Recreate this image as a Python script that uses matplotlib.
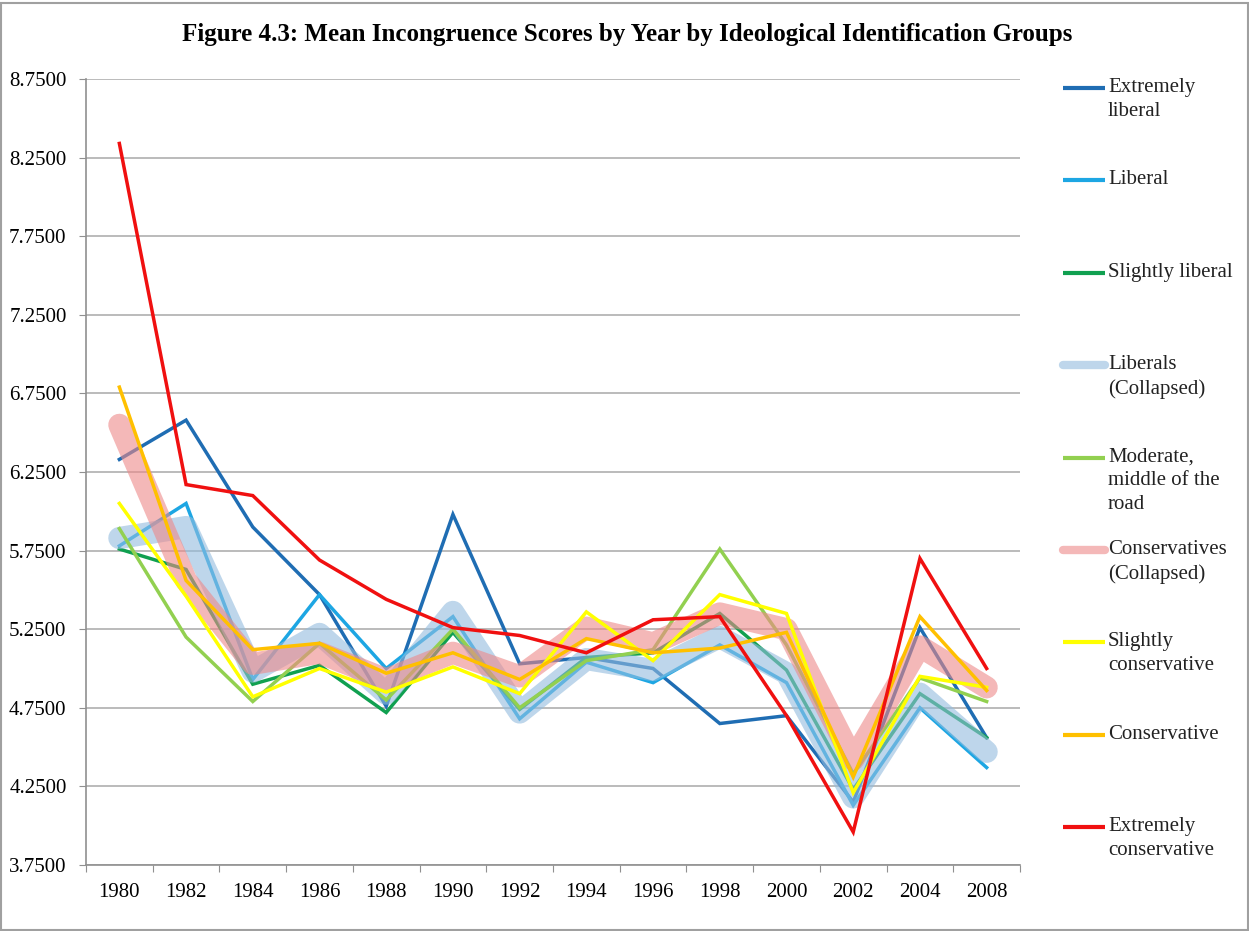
import numpy as np
import matplotlib
matplotlib.use("Agg")
import matplotlib.pyplot as plt
from matplotlib.lines import Line2D
from matplotlib.patches import Rectangle

years = ["1980", "1982", "1984", "1986", "1988", "1990", "1992",
         "1994", "1996", "1998", "2000", "2002", "2004", "2008"]

extremely_liberal = [6.33, 6.58, 5.90, 5.47, 4.76, 5.98, 5.03, 5.07, 5.00, 4.65, 4.70, 4.15, 5.26, 4.56]
liberal = [5.78, 6.05, 4.93, 5.47, 5.00, 5.33, 4.68, 5.04, 4.91, 5.15, 4.91, 4.13, 4.75, 4.37]
slightly_liberal = [5.76, 5.63, 4.90, 5.02, 4.72, 5.23, 4.74, 5.07, 5.10, 5.35, 4.99, 4.23, 4.84, 4.56]
liberals_collapsed = [5.83, 5.90, 4.98, 5.22, 4.84, 5.36, 4.72, 5.06, 4.99, 5.20, 4.97, 4.18, 4.84, 4.47]
moderate = [5.89, 5.20, 4.79, 5.16, 4.80, 5.25, 4.75, 5.05, 5.12, 5.76, 5.15, 4.33, 4.94, 4.79]
conservatives_collapsed = [6.55, 5.56, 5.03, 5.10, 4.93, 5.10, 4.95, 5.26, 5.16, 5.35, 5.25, 4.42, 5.14, 4.88]
slightly_conservative = [6.05, 5.46, 4.82, 5.00, 4.85, 5.01, 4.84, 5.36, 5.05, 5.47, 5.35, 4.21, 4.95, 4.88]
conservative = [6.79, 5.56, 5.12, 5.16, 4.97, 5.10, 4.93, 5.19, 5.10, 5.13, 5.23, 4.31, 5.33, 4.86]
extremely_conservative = [8.34, 6.17, 6.10, 5.69, 5.44, 5.26, 5.21, 5.10, 5.31, 5.33, 4.70, 3.96, 5.70, 5.00]

labels = ["Extremely\nliberal", "Liberal", "Slightly liberal", "Liberals\n(Collapsed)",
          "Moderate,\nmiddle of the\nroad", "Conservatives\n(Collapsed)",
          "Slightly\nconservative", "Conservative", "Extremely\nconservative"]
series = [extremely_liberal, liberal, slightly_liberal, liberals_collapsed, moderate,
          conservatives_collapsed, slightly_conservative, conservative, extremely_conservative]
colors = ["#1F6DB3", "#1DA6E3", "#10A050", "#93BCDE", "#92D050",
          "#ED8989", "#FFFF00", "#FFC000", "#F01010"]
thick = [False, False, False, True, False, True, False, False, False]

plt.rcParams['font.family'] = ['Liberation Serif', 'DejaVu Serif']

W, H = 1249, 931
fig = plt.figure(figsize=(W / 100, H / 100), dpi=100)
fig.patch.set_facecolor("white")
fig.patches.append(Rectangle((0.001, 0.001), 0.998, 0.996, transform=fig.transFigure,
                             fill=False, edgecolor="#A0A0A0", linewidth=1.5))

ax = fig.add_axes([86 / W, 1 - 865 / H, (1020 - 86) / W, (865 - 79) / H])
x = np.arange(len(years))

for i, (vals, col) in enumerate(zip(series, colors)):
    if thick[i]:
        ax.plot(x, vals, color=col, lw=16, alpha=0.6, solid_capstyle="round",
                solid_joinstyle="round", zorder=2 + i)
    else:
        ax.plot(x, vals, color=col, lw=2.5, solid_joinstyle="miter", zorder=2 + i)

ax.set_xlim(-0.5, len(years) - 0.5)
ax.set_ylim(3.75, 8.75)
yt = np.arange(3.75, 8.76, 0.5)
ax.set_yticks(yt)
ax.set_yticklabels(["%.4f" % v for v in yt])
ax.yaxis.grid(True, color="#A8A8A8", lw=1.1)
ax.set_axisbelow(True)

ax.set_xticks(np.arange(-0.5, len(years), 1.0))
ax.set_xticklabels([])
ax.set_xticks(x, minor=True)
ax.set_xticklabels(years, minor=True)
ax.tick_params(axis="x", which="major", length=5, color="#909090", direction="out")
ax.tick_params(axis="x", which="minor", length=0, pad=13, labelsize=15)
ax.tick_params(axis="y", length=5, color="#909090", pad=9, labelsize=15)

for s in ["top", "right"]:
    ax.spines[s].set_visible(False)
for s in ["left", "bottom"]:
    ax.spines[s].set_color("#909090")
    ax.spines[s].set_linewidth(1.2)

fig.text(627 / W, 1 - 34 / H,
         "Figure 4.3: Mean Incongruence Scores by Year by Ideological Identification Groups",
         ha="center", va="center", fontsize=18, fontweight="bold")

# legend drawn by hand, one entry every ~92 px
for i, (lab, col) in enumerate(zip(labels, colors)):
    yy = 1 - (88 + i * 92.4) / H
    lw = 6 if thick[i] else 3
    fig.add_artist(Line2D([1063 / W, 1105 / W], [yy, yy], transform=fig.transFigure,
                          color=col, lw=lw, alpha=0.6 if thick[i] else 1.0,
                          solid_capstyle="round" if thick[i] else "butt"))
    fig.text(1108 / W, yy + 10 / H, lab, ha="left", va="top", fontsize=15,
             linespacing=1.33, color="#222222")

fig.savefig("out.png", dpi=100)
